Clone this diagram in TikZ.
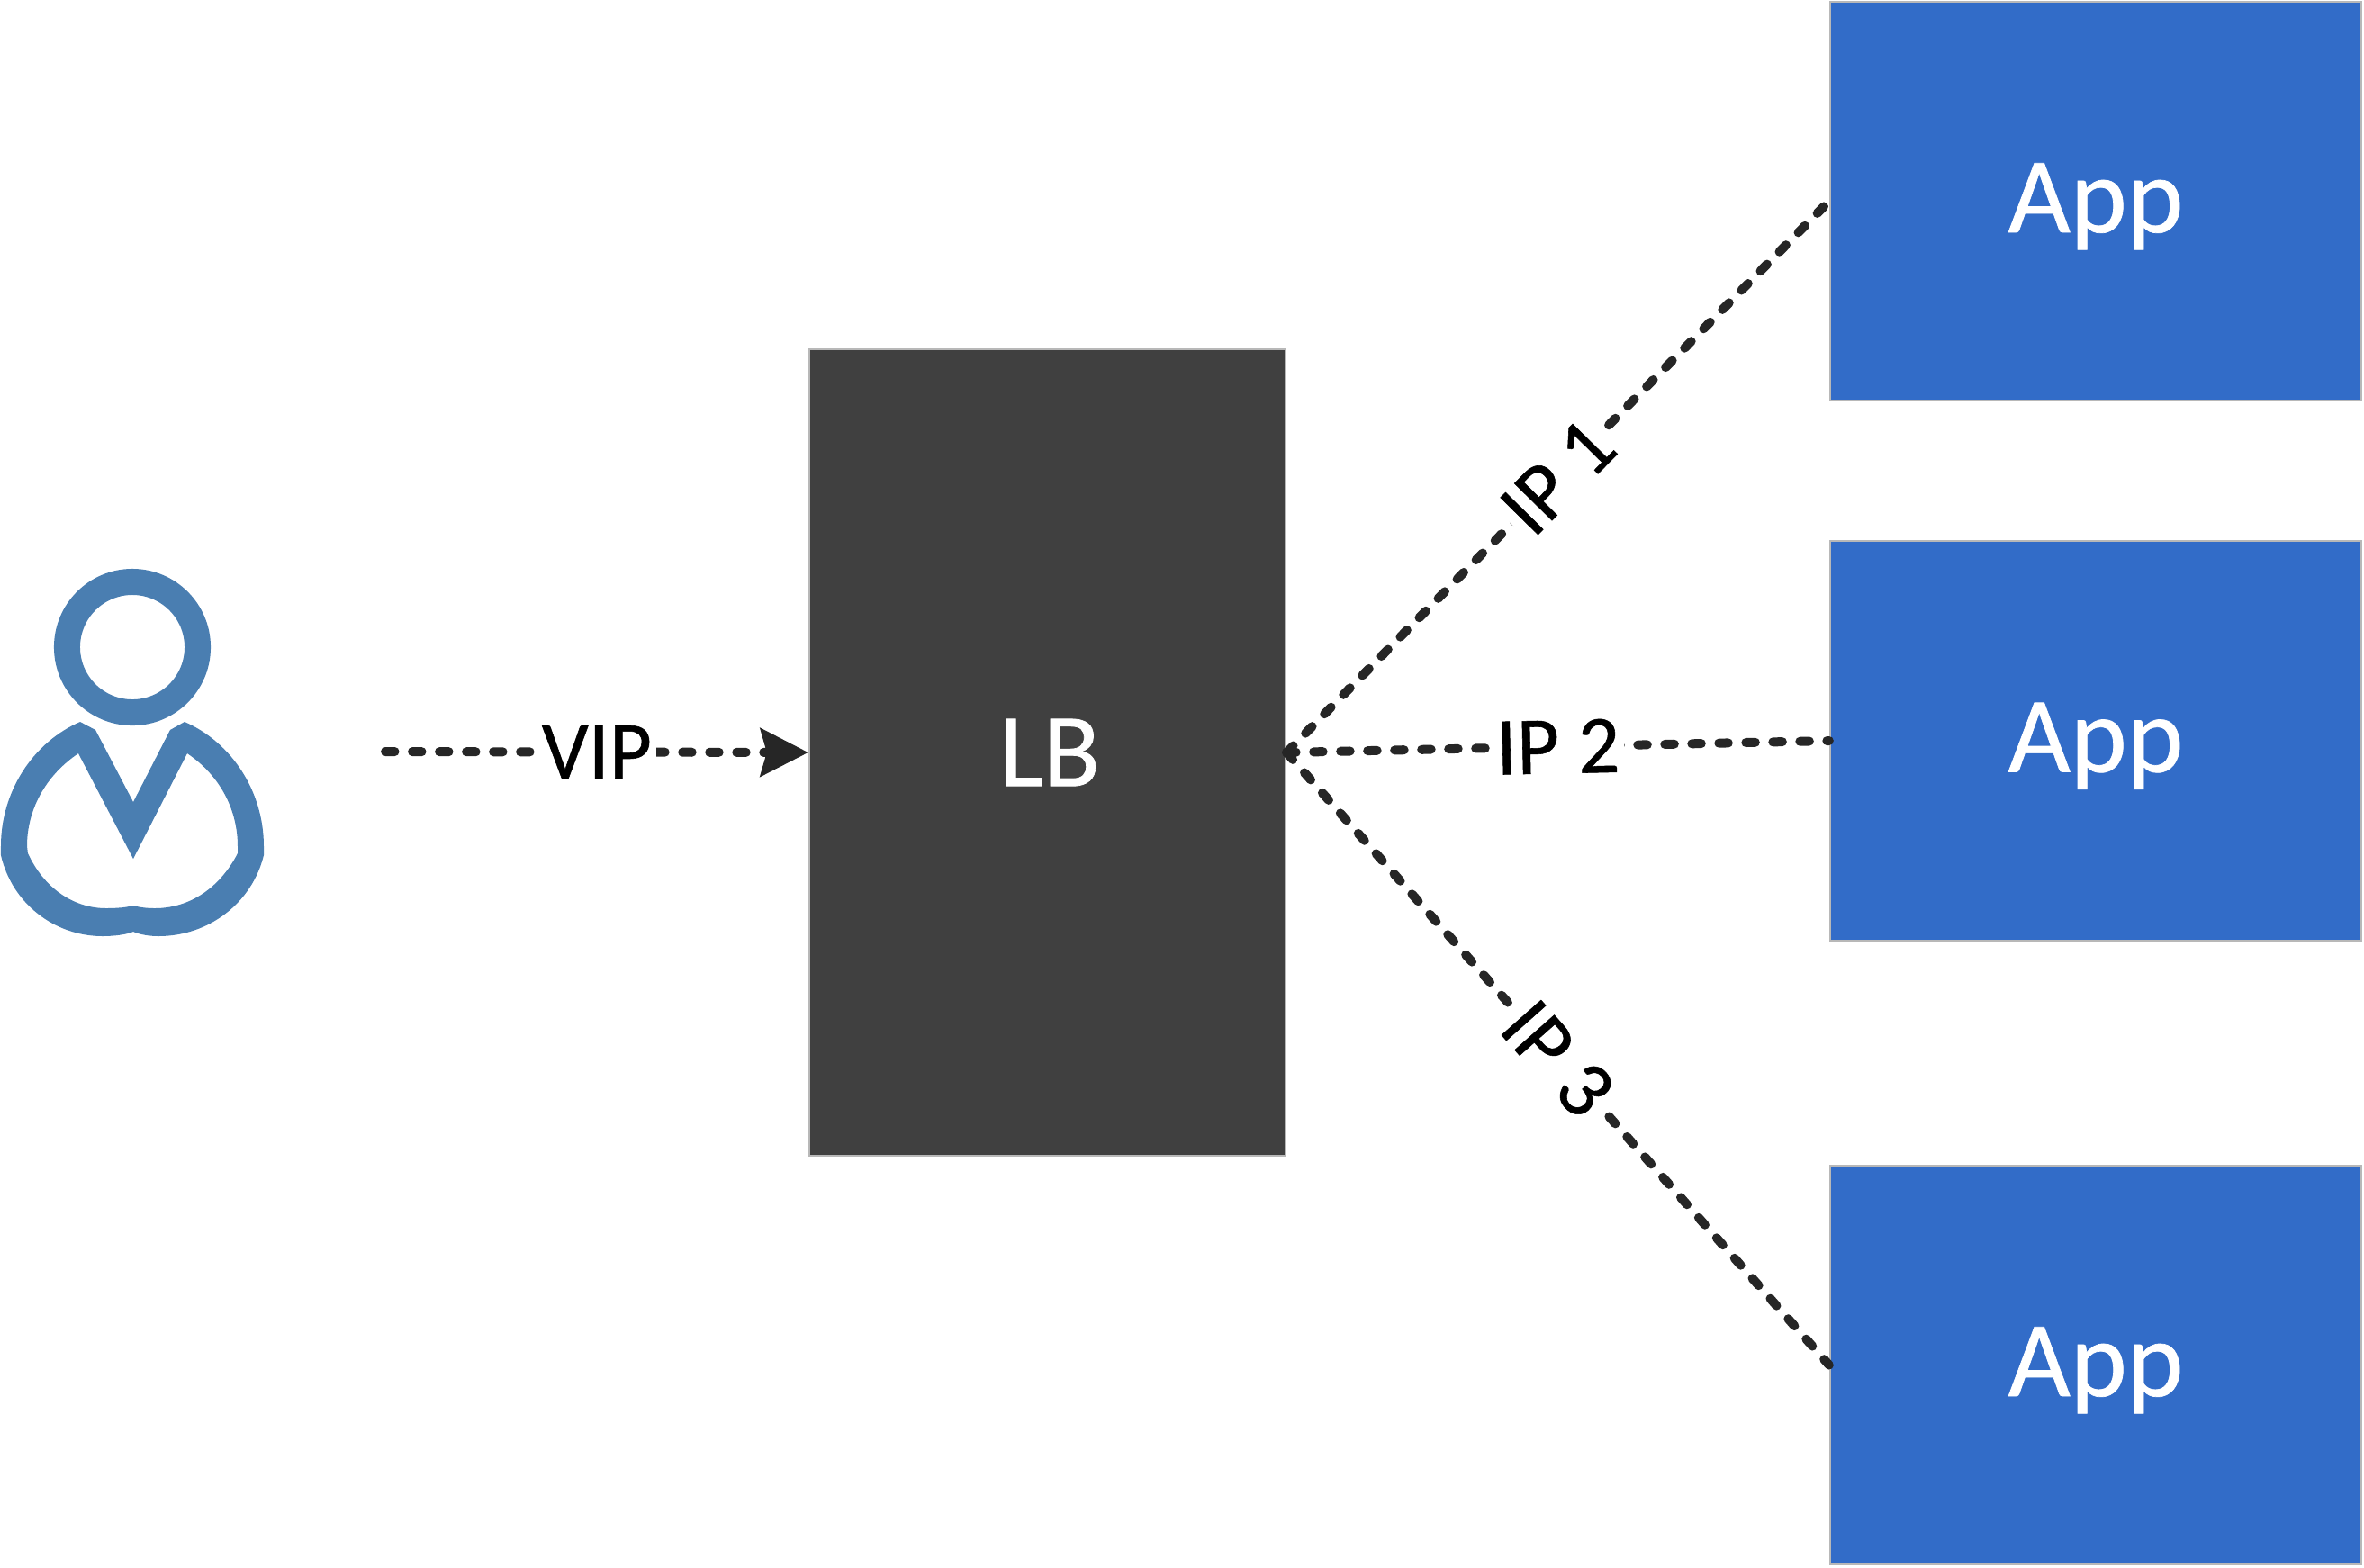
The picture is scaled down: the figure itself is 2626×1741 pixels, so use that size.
\documentclass[tikz,border=0pt]{standalone}
\usepackage{fontspec}
\setmainfont{Carlito}
\usetikzlibrary{arrows.meta}
\definecolor{appblue}{HTML}{326CC8}
\definecolor{lbgrey}{HTML}{404040}
\definecolor{userblue}{HTML}{4A7EB1}
\definecolor{linkgrey}{HTML}{262626}
\definecolor{edgegrey}{HTML}{B8B8B8}
\newfontfamily\heavyfont[FakeBold=0.6]{Carlito}
\tikzset{
  appbox/.style={rectangle,draw=edgegrey,line width=0.02cm,fill=appblue,text=white,minimum width=5.9cm,minimum height=4.43cm,inner sep=0pt,text height=0.75cm,text depth=0.06cm,font=\heavyfont\fontsize{34}{41}\selectfont},
  lbbox/.style={rectangle,draw=edgegrey,line width=0.02cm,fill=lbgrey,text=white,minimum width=5.29cm,minimum height=8.96cm,inner sep=0pt,font=\heavyfont\fontsize{33}{40}\selectfont},
  link/.style={draw=linkgrey,line width=0.10cm,line cap=round,dash pattern=on 0.105cm off 0.195cm},
  linklabel/.style={fill=white,text=black,inner sep=0.05cm,font=\heavyfont\fontsize{26}{31}\selectfont},
  headring/.style={circle,draw=userblue,line width=0.29cm,minimum size=1.45cm,inner sep=0pt},
}
\begin{document}
\begin{tikzpicture}[x=0.01cm,y=-0.01cm]
\useasboundingbox (0,0) rectangle (2626,1741);
\node[lbbox] (lb) at (1163.5,836) {\hspace*{0.05cm}LB};
\node[appbox] (app1) at (2328,223.5) {App};
\node[appbox] (app2) at (2328,823) {App};
\node[appbox] (app3) at (2328,1516.5) {App};
\node[headring] (head) at (147,719) {};
\fill[userblue,even odd rule]
  (89,802) -- (106,811) -- (148,891) -- (189,811) -- (205,802)
  .. controls (258,825) and (293,880) .. (293,940) -- (293,950)
  .. controls (280,1003) and (232,1040) .. (176,1040)
  .. controls (165,1040) and (155,1038) .. (148,1035)
  .. controls (141,1038) and (128,1040) .. (114,1040)
  .. controls (60,1040) and (13,1003) .. (1,950) -- (1,940)
  .. controls (1,880) and (36,825) .. (89,802) -- cycle
  (87,837) -- (148,954) -- (208,837)
  .. controls (245,862) and (264,900) .. (264,940) -- (264,948)
  .. controls (245,985) and (212,1009) .. (172,1009)
  .. controls (163,1009) and (155,1008) .. (148,1006)
  .. controls (141,1008) and (130,1009) .. (118,1009)
  .. controls (80,1009) and (48,985) .. (31,948) -- (30,940)
  .. controls (30,900) and (50,862) .. (87,837) -- cycle;
\coordinate (vipstart) at (428,835);
\draw[link,-{Stealth[length=0.53cm,width=0.53cm,inset=0.07cm]}] (vipstart) -- (lb.west) node[midway,linklabel] {VIP};
\draw[link] (lb.east) -- (app1.west) node[midway,sloped,linklabel] {IP 1};
\draw[link] (lb.east) -- (app2.west) node[midway,sloped,linklabel] {IP 2};
\draw[link] (lb.east) -- (app3.west) node[midway,sloped,linklabel] {IP 3};
\end{tikzpicture}
\end{document}
